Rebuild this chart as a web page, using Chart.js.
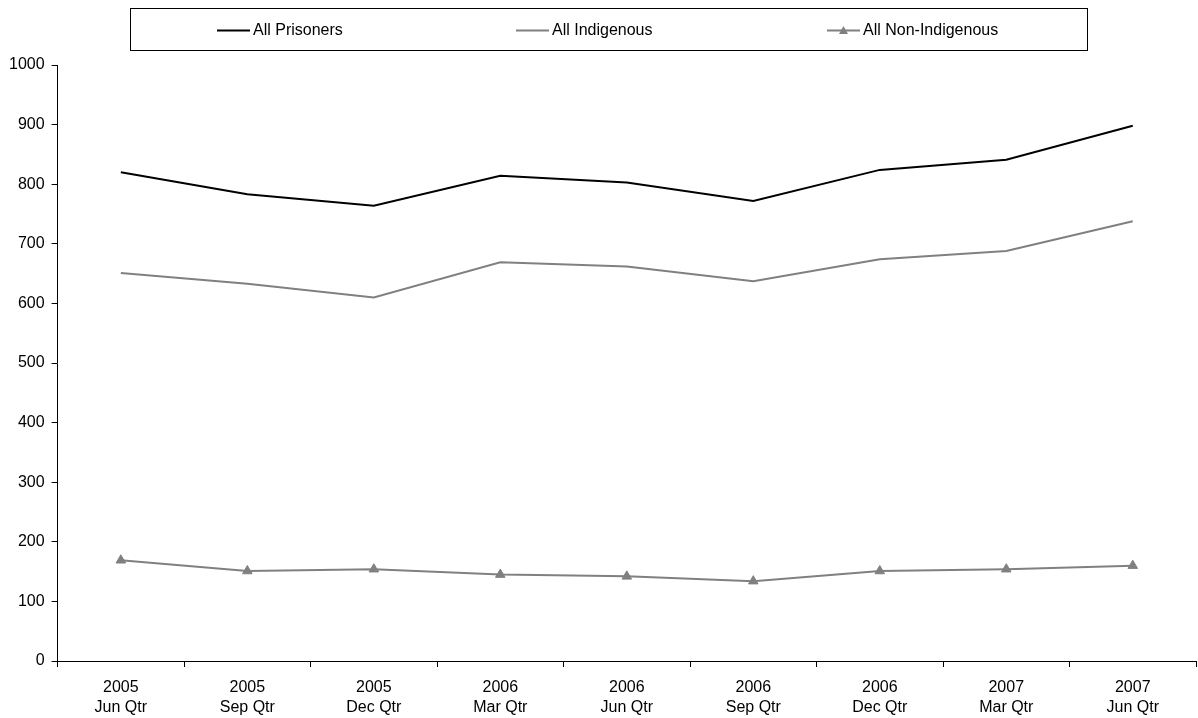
<!DOCTYPE html>
<html>
<head>
<meta charset="utf-8">
<script src="https://cdn.jsdelivr.net/npm/chart.js@4/dist/chart.umd.min.js"></script>
<style>
  html, body { margin: 0; padding: 0; background: #ffffff; }
  #wrap { width: 1198px; height: 718px; position: relative; }
</style>
</head>
<body>
<div id="wrap"><canvas id="c" width="1198" height="718"></canvas></div>
<script>
const categories = [
  ["2005", "Jun Qtr"], ["2005", "Sep Qtr"], ["2005", "Dec Qtr"],
  ["2006", "Mar Qtr"], ["2006", "Jun Qtr"], ["2006", "Sep Qtr"],
  ["2006", "Dec Qtr"], ["2007", "Mar Qtr"], ["2007", "Jun Qtr"]
];
const allPrisoners = [820, 783, 764, 814, 803, 772, 824, 841, 898];
const allIndigenous = [651, 633, 610, 669, 662, 637, 674, 688, 738];
const allNonIndigenous = [169, 151, 154, 145, 142, 134, 151, 154, 160];
const seriesNames = ["All Prisoners", "All Indigenous", "All Non-Indigenous"];

const FONT = "'Liberation Sans', Arial, sans-serif";

const boxLegend = {
  id: 'boxLegend',
  afterDraw(chart) {
    const ctx = chart.ctx;
    ctx.save();
    ctx.strokeStyle = '#000000';
    ctx.lineWidth = 1;
    ctx.strokeRect(130.5, 8.5, 957, 42);
    const starts = [217, 516, 827];
    const yc = 30.5;
    ctx.font = '16px ' + FONT;
    ctx.textBaseline = 'middle';
    ctx.textAlign = 'left';
    chart.data.datasets.forEach((ds, i) => {
      const x0 = starts[i];
      ctx.strokeStyle = ds.borderColor;
      ctx.lineWidth = 2;
      ctx.beginPath();
      ctx.moveTo(x0, yc);
      ctx.lineTo(x0 + 33, yc);
      ctx.stroke();
      if (ds.pointStyle === 'triangle') {
        const cx = x0 + 16.5;
        ctx.fillStyle = ds.pointBackgroundColor;
        ctx.beginPath();
        ctx.moveTo(cx, yc - 4.5);
        ctx.lineTo(cx + 4.5, yc + 3.5);
        ctx.lineTo(cx - 4.5, yc + 3.5);
        ctx.closePath();
        ctx.fill();
      }
      ctx.fillStyle = '#000000';
      ctx.fillText(ds.label, x0 + 36, yc);
    });
    ctx.restore();
  }
};

new Chart(document.getElementById('c'), {
  type: 'line',
  data: {
    labels: categories,
    datasets: [
      {
        label: seriesNames[0], data: allPrisoners,
        borderColor: '#000000', backgroundColor: '#000000',
        borderWidth: 2, pointRadius: 0, tension: 0
      },
      {
        label: seriesNames[1], data: allIndigenous,
        borderColor: '#808080', backgroundColor: '#808080',
        borderWidth: 2, pointRadius: 0, tension: 0
      },
      {
        label: seriesNames[2], data: allNonIndigenous,
        borderColor: '#808080', backgroundColor: '#808080',
        pointBackgroundColor: '#808080', pointBorderColor: '#808080',
        borderWidth: 2, pointStyle: 'triangle', pointRadius: 5.5, pointBorderWidth: 1,
        tension: 0
      }
    ]
  },
  options: {
    responsive: false,
    animation: false,
    devicePixelRatio: 1,
    layout: { autoPadding: false, padding: { top: 65, left: 2, right: 2, bottom: -11 } },
    plugins: {
      legend: { display: false },
      tooltip: { enabled: false },
      title: { display: false }
    },
    scales: {
      x: {
        type: 'category',
        offset: true,
        afterFit: (scale) => { scale.paddingLeft = 0; scale.paddingRight = 0; },
        border: { display: true, color: '#000000', width: 1 },
        grid: {
          display: true, offset: true, drawOnChartArea: false,
          drawTicks: true, tickLength: 6, tickColor: '#000000', color: '#000000'
        },
        ticks: {
          color: '#000000', font: { family: FONT, size: 16, lineHeight: 1.25 },
          padding: 11, maxRotation: 0, autoSkip: false
        }
      },
      y: {
        min: 0, max: 1000,
        border: { display: true, color: '#000000', width: 1 },
        grid: {
          display: true, drawOnChartArea: false,
          drawTicks: true, tickLength: 6, tickColor: '#000000', color: '#000000'
        },
        ticks: {
          stepSize: 100, color: '#000000',
          font: { family: FONT, size: 16 }, padding: 7,
          callback: (v) => String(v)
        }
      }
    }
  },
  plugins: [boxLegend]
});
</script>
</body>
</html>
